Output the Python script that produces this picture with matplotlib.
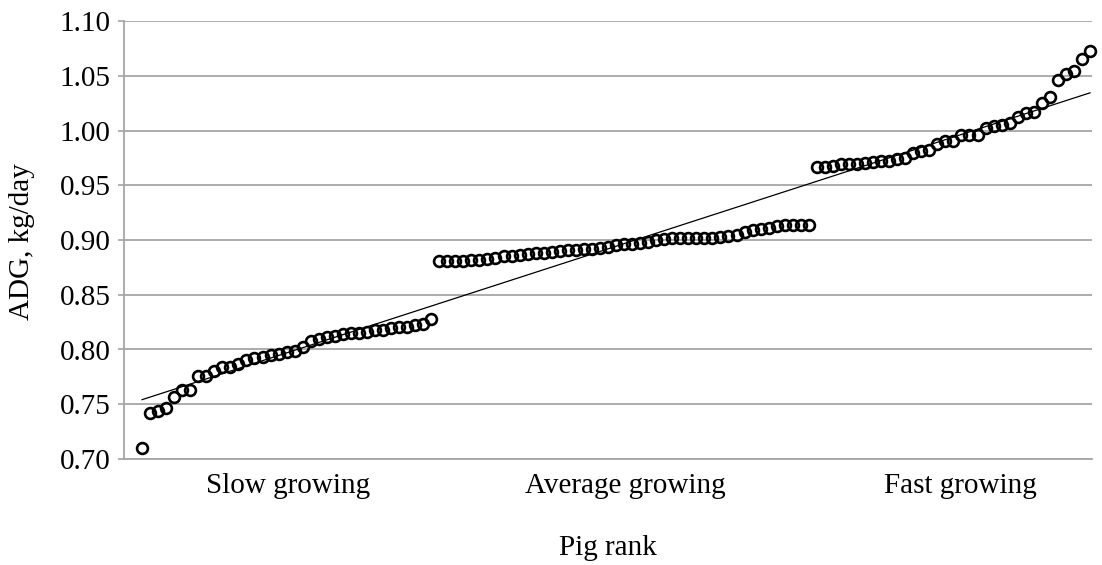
import numpy as np
import matplotlib
matplotlib.use("Agg")
import matplotlib.pyplot as plt

# ADG per pig, ranked
slow_growing = [0.710, 0.742, 0.744, 0.747, 0.757, 0.763, 0.763, 0.776, 0.776, 0.780,
                0.784, 0.784, 0.787, 0.790, 0.792, 0.793, 0.795, 0.796, 0.798, 0.799,
                0.802, 0.808, 0.810, 0.811, 0.812, 0.814, 0.815, 0.815, 0.816, 0.818,
                0.818, 0.820, 0.821, 0.821, 0.822, 0.823, 0.828]
average_growing = [0.881, 0.881, 0.881, 0.881, 0.882, 0.882, 0.883, 0.884, 0.885, 0.885,
                   0.886, 0.887, 0.888, 0.888, 0.889, 0.890, 0.891, 0.891, 0.892, 0.892,
                   0.893, 0.894, 0.895, 0.896, 0.896, 0.897, 0.898, 0.900, 0.901, 0.902,
                   0.902, 0.902, 0.902, 0.902, 0.902, 0.903, 0.904, 0.905, 0.907, 0.909,
                   0.910, 0.911, 0.913, 0.914, 0.914, 0.914, 0.914]
fast_growing = [0.967, 0.967, 0.968, 0.969, 0.969, 0.969, 0.970, 0.971, 0.972, 0.972,
                0.974, 0.975, 0.979, 0.981, 0.982, 0.988, 0.990, 0.990, 0.996, 0.996,
                0.996, 1.002, 1.004, 1.005, 1.007, 1.012, 1.016, 1.017, 1.025, 1.031,
                1.046, 1.052, 1.054, 1.065, 1.073]
group_labels = ["Slow growing", "Average growing", "Fast growing"]
y_ticks = [0.70, 0.75, 0.80, 0.85, 0.90, 0.95, 1.00, 1.05, 1.10]

adg = np.array(slow_growing + average_growing + fast_growing)
rank = np.arange(1, len(adg) + 1)

plt.rcParams['font.family'] = ['Liberation Serif', 'DejaVu Serif']

fig = plt.figure(figsize=(11.02, 5.65), dpi=100)
ax = fig.add_axes([124 / 1102, 1 - 459 / 565, (1092 - 124) / 1102, (459 - 21) / 565])

ax.plot(rank, adg, linestyle='none', marker='o', markersize=7.8,
        markerfacecolor='none', markeredgecolor='black', markeredgewidth=1.9,
        zorder=3, clip_on=False)

# linear trendline
k, b = np.polyfit(rank, adg, 1)
ax.plot([rank[0], rank[-1]], [k * rank[0] + b, k * rank[-1] + b],
        color='black', linewidth=0.9, zorder=2)

spacing = (1090 - 142) / (len(adg) - 1)
ax.set_xlim(1 - (142 - 124) / spacing, len(adg) + (1092 - 1090) / spacing)
ax.set_ylim(0.70, 1.10)
ax.set_yticks(y_ticks)
ax.set_yticklabels([f"{t:.2f}" for t in y_ticks])

centers = [1 + (c - 142) / spacing for c in (288, 625, 960)]
ax.set_xticks(centers)
ax.set_xticklabels(group_labels)
ax.tick_params(axis='x', length=0, pad=10, labelsize=21)
ax.tick_params(axis='y', length=4.5, width=1.2, color='#a6a6a6', pad=5, labelsize=21)

ax.grid(axis='y', color='#a6a6a6', linewidth=1.3)
ax.set_axisbelow(True)
for s in ['top', 'right']:
    ax.spines[s].set_visible(False)
for s in ['left', 'bottom']:
    ax.spines[s].set_color('#a6a6a6')
    ax.spines[s].set_linewidth(1.3)

fig.text(22 / 1102, 1 - 242 / 565, "ADG, kg/day", rotation=90, ha='center', va='center', fontsize=21)
fig.text(608 / 1102, 1 - 548 / 565, "Pig rank", ha='center', va='center', fontsize=21)

fig.savefig("out.png", dpi=100)
